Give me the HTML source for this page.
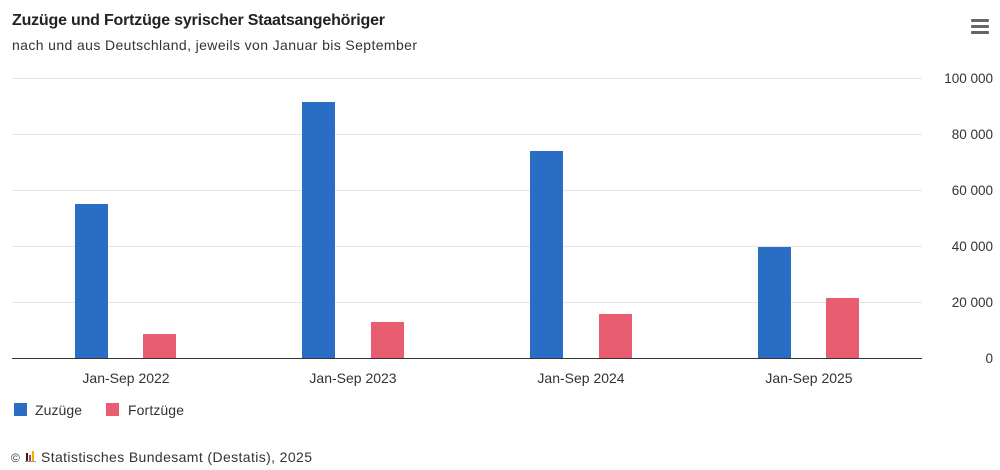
<!DOCTYPE html>
<html><head><meta charset="utf-8"><style>
body{margin:0;background:#fff;font-family:"Liberation Sans",sans-serif;color:#333}
</style></head><body>
<svg width="1000" height="465" xmlns="http://www.w3.org/2000/svg" font-family="Liberation Sans, sans-serif">
<text x="12" y="25" font-size="16" font-weight="bold" fill="#222" textLength="373">Zuzüge und Fortzüge syrischer Staatsangehöriger</text>
<text x="12" y="50" font-size="14" fill="#333" textLength="405">nach und aus Deutschland, jeweils von Januar bis September</text>
<g fill="#666"><rect x="971" y="19" width="18" height="3" rx="1"/><rect x="971" y="25" width="18" height="3" rx="1"/><rect x="971" y="31" width="18" height="3" rx="1"/></g>
<g stroke="#e6e6e6" stroke-width="1">
<line x1="12" x2="922" y1="78.5" y2="78.5"/><line x1="12" x2="922" y1="134.5" y2="134.5"/><line x1="12" x2="922" y1="190.5" y2="190.5"/><line x1="12" x2="922" y1="246.5" y2="246.5"/><line x1="12" x2="922" y1="302.5" y2="302.5"/>
</g>
<g font-size="13.5" fill="#333" text-anchor="end">
<text x="993" y="83">100 000</text><text x="993" y="139">80 000</text><text x="993" y="195">60 000</text><text x="993" y="251">40 000</text><text x="993" y="307">20 000</text><text x="993" y="363">0</text>
</g>
<g fill="#2a6dc4">
<rect x="75" y="204" width="33" height="154"/><rect x="302" y="102" width="33" height="256"/><rect x="530" y="151" width="33" height="207"/><rect x="758" y="247" width="33" height="111"/>
</g>
<g fill="#e95d70">
<rect x="143" y="334" width="33" height="24"/><rect x="371" y="322" width="33" height="36"/><rect x="599" y="314" width="33" height="44"/><rect x="826" y="298" width="33" height="60"/>
</g>
<line x1="12" x2="922" y1="358.5" y2="358.5" stroke="#333" stroke-width="1"/>
<g font-size="14" fill="#333" text-anchor="middle">
<text x="126" y="383">Jan-Sep 2022</text><text x="353" y="383">Jan-Sep 2023</text><text x="581" y="383">Jan-Sep 2024</text><text x="809" y="383">Jan-Sep 2025</text>
</g>
<rect x="14" y="403" width="13" height="13" fill="#2a6dc4"/>
<text x="35" y="415" font-size="14" fill="#333" textLength="47">Zuzüge</text>
<rect x="106" y="403" width="13" height="13" fill="#e95d70"/>
<text x="128" y="415" font-size="14" fill="#333" textLength="56">Fortzüge</text>
<text x="11" y="462" font-size="12" fill="#333">©</text>
<rect x="26" y="453" width="2" height="8" fill="#222"/><rect x="29" y="455" width="2" height="6" fill="#d33"/><rect x="32" y="451" width="2" height="10" fill="#e8b400"/>
<rect x="25" y="461" width="11" height="1" fill="#999"/>
<text x="41" y="462" font-size="14" fill="#333" textLength="271">Statistisches Bundesamt (Destatis), 2025</text>
</svg>
</body></html>
